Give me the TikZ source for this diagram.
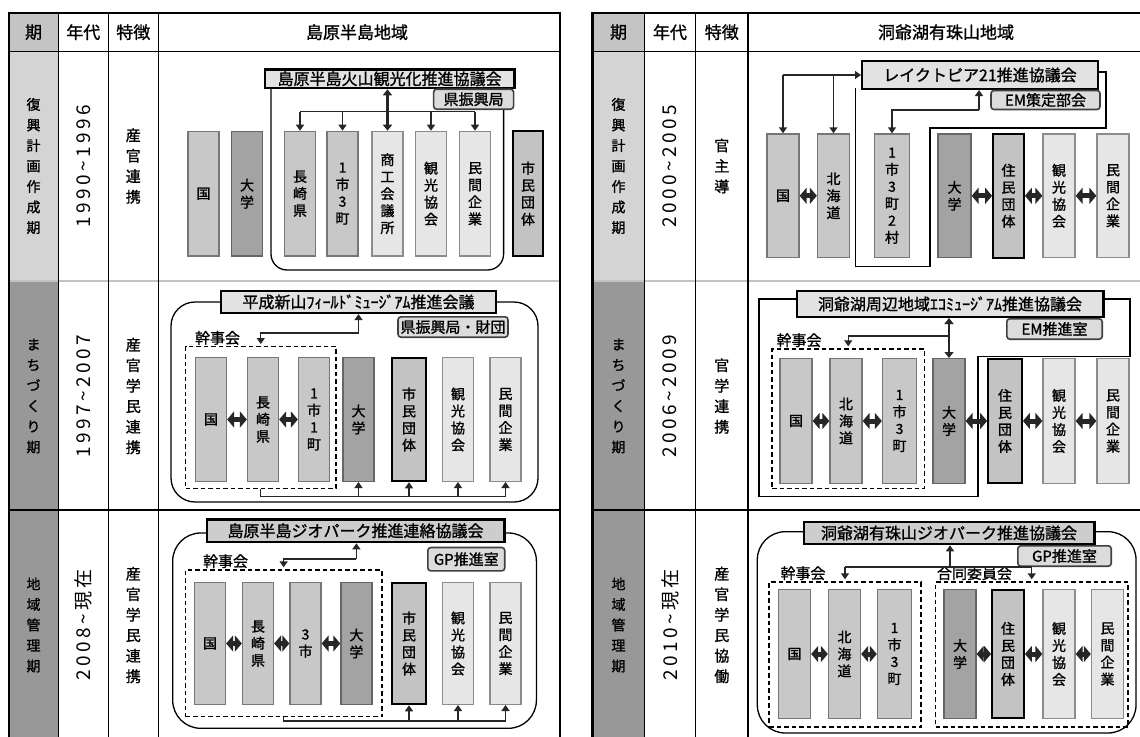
\documentclass[tikz,border=0pt]{standalone}
\usepackage{fontspec}
\newfontfamily\jp{Noto Sans CJK JP}[AutoFakeBold=1.2]
\newfontfamily\jpnum{Noto Sans CJK JP}[LetterSpace=18]
\usetikzlibrary{arrows.meta, positioning, calc}

\definecolor{celdaKiCab}{RGB}{196,196,196}
\definecolor{celdaKiClaro}{RGB}{212,212,212}
\definecolor{celdaKiOscuro}{RGB}{152,152,152}
\definecolor{lineaFila}{RGB}{195,195,195}
\definecolor{cajaGob}{RGB}{200,200,200}
\definecolor{cajaUniv}{RGB}{163,163,163}
\definecolor{cajaCiv}{RGB}{195,195,195}
\definecolor{cajaPriv}{RGB}{230,230,230}
\definecolor{bordeCaja}{RGB}{118,118,118}
\definecolor{fondoConsejo}{RGB}{226,226,226}
\definecolor{fondoConsejoGeo}{RGB}{205,205,205}
\definecolor{fondoOficina}{RGB}{220,220,220}

\begin{document}
\begin{tikzpicture}[
  x=1pt, y=-1pt,
  org/.style={rectangle, draw=bordeCaja, line width=1.3pt, inner sep=0pt,
              minimum width=31pt, align=center,
              font=\jp\bfseries\fontsize{14}{17}\selectfont},
  gob/.style={org, fill=cajaGob},
  univ/.style={org, fill=cajaUniv, draw=black!60},
  civ/.style={org, fill=cajaCiv, draw=black, line width=1.8pt, minimum width=34pt},
  priv/.style={org, fill=cajaPriv, draw=black!45},
  consejo/.style={rectangle, draw=black, line width=2.2pt, fill=fondoConsejo,
                  inner sep=0pt, font=\jp\bfseries\fontsize{16}{18}\selectfont},
  oficina/.style={rectangle, rounded corners=3pt, draw=black!75, line width=1.6pt,
                  fill=fondoOficina, inner sep=0pt, font=\jp\bfseries\fontsize{15}{17}\selectfont},
  kanji/.style={rectangle, draw=black, line width=1.4pt,
                dash pattern=on 4.5pt off 3pt, inner sep=0pt},
  rotulo/.style={inner sep=0pt, font=\jp\bfseries\fontsize{15}{17}\selectfont},
  marco/.style={draw=black, line width=1.3pt},
  link/.style={draw=black!85, line width=1.4pt},
  arr/.style={link, -{Triangle[length=6pt,width=8pt]}},
  dbl/.style={<->, >={Triangle[length=7pt,width=16pt]}, line width=5pt, draw=black!85},
  gruesa/.style={link, line width=2.4pt,
                 {Triangle[length=6pt,width=9pt]}-{Triangle[length=6pt,width=9pt]}},
  cab/.style={inner sep=0pt, font=\jp\bfseries\fontsize{17}{19}\selectfont},
  ki/.style={inner sep=0pt, align=center, font=\jp\bfseries\fontsize{14}{20.5}\selectfont},
  rasgo/.style={inner sep=0pt, align=center, font=\jp\bfseries\fontsize{15}{20.5}\selectfont},
  nendai/.style={inner sep=0pt, rotate=90, font=\jpnum\fontsize{19}{21}\selectfont},
]
  \useasboundingbox (0,0) rectangle (1140,736);

  \fill[celdaKiCab] (8.7,12.7) rectangle (58.2,51.7);
  \fill[celdaKiClaro] (8.7,51.7) rectangle (58.2,281);
  \fill[celdaKiOscuro] (8.7,281) rectangle (58.2,740);
  \draw[lineaFila, line width=1.5pt] (8.7,281) -- (560,281);
  \draw[line width=1.5pt] (8.7,51.7) -- (560,51.7) (8.7,510) -- (560,510);
  \draw[line width=1.2pt] (58.2,12.7) -- (58.2,740) (108.4,12.7) -- (108.4,740)
    (158.2,12.7) -- (158.2,740);
  \draw[line width=2.2pt] (8.7,740) -- (8.7,12.7) -- (560,12.7) -- (560,740);

  \fill[celdaKiCab] (592.5,12.7) rectangle (644.5,51.7);
  \fill[celdaKiClaro] (592.5,51.7) rectangle (644.5,281);
  \fill[celdaKiOscuro] (592.5,281) rectangle (644.5,740);
  \draw[lineaFila, line width=1.5pt] (592.5,281) -- (1141,281);
  \draw[line width=1.5pt] (592.5,51.7) -- (1141,51.7) (592.5,510) -- (1141,510);
  \draw[line width=1.2pt] (644.5,12.7) -- (644.5,740) (695.5,12.7) -- (695.5,740)
    (748,12.7) -- (748,740);
  \draw[line width=2.2pt] (592.5,740) -- (592.5,12.7) -- (1141,12.7) -- (1141,740);

  \node[cab] (kiL) at (33.5,32.2) {期};
  \node[cab] (nenL) at (83.3,32.2) {年代};
  \node[cab] (tokuL) at (133.3,32.2) {特徴};
  \node[cab] (chiikiL) at (357,32.2) {島原半島地域};
  \node[ki] (kiL1) at (33.5,166) {復\\興\\計\\画\\作\\成\\期};
  \node[ki] (kiL2) at (33.5,396) {ま\\ち\\づ\\く\\り\\期};
  \node[ki] (kiL3) at (33.5,625) {地\\域\\管\\理\\期};
  \node[nendai] (nenL1) at (83.3,166) {1990\char"7E 1996};
  \node[nendai] (nenL2) at (83.3,396) {1997\char"7E 2007};
  \node[nendai] (nenL3) at (83.3,625) {2008\char"7E 現在};
  \node[rasgo] (tokuL1) at (133.3,166) {産\\官\\連\\携};
  \node[rasgo] (tokuL2) at (133.3,396) {産\\官\\学\\民\\連\\携};
  \node[rasgo] (tokuL3) at (133.3,625) {産\\官\\学\\民\\連\\携};

  \node[cab] (kiR) at (618.5,32.2) {期};
  \node[cab] (nenR) at (670,32.2) {年代};
  \node[cab] (tokuR) at (721.8,32.2) {特徴};
  \node[cab] (chiikiR) at (946,32.2) {洞爺湖有珠山地域};
  \node[ki] (kiR1) at (618.5,166) {復\\興\\計\\画\\作\\成\\期};
  \node[ki] (kiR2) at (618.5,396) {ま\\ち\\づ\\く\\り\\期};
  \node[ki] (kiR3) at (618.5,625) {地\\域\\管\\理\\期};
  \node[nendai] (nenR1) at (670,166) {2000\char"7E 2005};
  \node[nendai] (nenR2) at (670,396) {2006\char"7E 2009};
  \node[nendai] (nenR3) at (670,625) {2010\char"7E 現在};
  \node[rasgo] (tokuR1) at (721.8,166) {官\\主\\導};
  \node[rasgo] (tokuR2) at (721.8,396) {官\\学\\連\\携};
  \node[rasgo] (tokuR3) at (721.8,625) {産\\官\\学\\民\\協\\働};

  \draw[marco] (271,85) [rounded corners=16pt] -- (271,270) -- (503.6,270) -- (503.6,105);
  \node[consejo, minimum width=249.8pt, minimum height=18.8pt] (consejoL1) at (389.6,78.8)
    {島原半島火山観光化推進協議会};
  \node[oficina, minimum width=80pt, minimum height=20pt] (oficinaL1) at (473.6,99.2) {県振興局};
  \begin{scope}[org/.append style={minimum height=124.7pt}]
    \node[gob] (kokuL1) at (203.5,193.7) {国};
    \node[univ] (daigakuL1) at (247,193.7) {大\\学};
    \node[gob] (kenL1) at (300,193.7) {長\\崎\\県};
    \node[gob] (shichoL1) at (342.5,193.7) {1\\市\\3\\町};
    \node[priv] (shokoL1) at (387.5,193.7) {商\\工\\会\\議\\所};
    \node[priv] (kankoL1) at (431,193.7) {観\\光\\協\\会};
    \node[priv] (minkanL1) at (475,193.7) {民\\間\\企\\業};
    \node[civ, minimum width=30pt] (shiminL1) at (528,193.7) {市\\民\\団\\体};
  \end{scope}
  \coordinate (busL1) at (0,111.7);
  \draw[link] (kenL1.north |- busL1) -- (minkanL1.north |- busL1);
  \foreach \n in {kenL1,shichoL1,kankoL1,minkanL1}
    \draw[arr] (\n.north |- busL1) -- (\n.north);
  \draw[gruesa] (shokoL1.north) -- (shokoL1.north |- consejoL1.south);

  \draw[marco, rounded corners=24pt] (171,302) rectangle (538,502);
  \node[consejo, minimum width=275pt, minimum height=22pt] (consejoL2) at (358.5,302)
    {平成新山ﾌｨｰﾙﾄﾞﾐｭｰｼﾞｱﾑ推進会議};
  \node[oficina, minimum width=110pt, minimum height=20.4pt] (oficinaL2) at (453,327)
    {県振興局・財団};
  \node[kanji, minimum width=150.5pt, minimum height=141.6pt] (kanjiL2) at (260.75,417.5) {};
  \node[rotulo, anchor=south west] (rotuloL2) at ([xshift=10pt,yshift=1pt]kanjiL2.north west) {幹事会};
  \begin{scope}[org/.append style={minimum height=123.7pt}]
    \node[gob] (kokuL2) at (211,419.5) {国};
    \node[gob] (kenL2) at (263,419.5) {長\\崎\\県};
    \node[gob] (shichoL2) at (314,419.5) {1\\市\\1\\町};
    \node[univ] (daigakuL2) at (358.5,419.5) {大\\学};
    \node[civ] (shiminL2) at (409,419.5) {市\\民\\団\\体};
    \node[priv] (kankoL2) at (458,419.5) {観\\光\\協\\会};
    \node[priv] (minkanL2) at (505.5,419.5) {民\\間\\企\\業};
  \end{scope}
  \draw[dbl] (kokuL2) -- (kenL2);
  \draw[dbl] (kenL2) -- (shichoL2);
  \coordinate (busL2) at (0,333);
  \draw[arr] (daigakuL2.north |- busL2) -- (daigakuL2.north |- consejoL2.south);
  \draw[arr] (daigakuL2.north |- busL2) -| ([yshift=2pt]kanjiL2.north);
  \coordinate (baseL2) at (0,496.7);
  \draw[link] (kanjiL2.south) -- (kanjiL2.south |- baseL2) -- (minkanL2.south |- baseL2);
  \foreach \n in {daigakuL2,shiminL2,kankoL2,minkanL2}
    \draw[arr] (\n.south |- baseL2) -- (\n.south);

  \draw[marco, rounded corners=28pt] (172.7,533) rectangle (536.4,728.3);
  \node[consejo, fill=fondoConsejoGeo, minimum width=297.8pt, minimum height=22.8pt] (consejoL3)
    at (355.5,530.8) {島原半島ジオパーク推進連絡協議会};
  \node[oficina, minimum width=76.9pt, minimum height=23.4pt] (oficinaL3) at (466.3,559.2) {GP推進室};
  \node[kanji, minimum width=196.3pt, minimum height=146.7pt] (kanjiL3) at (283.65,643.35) {};
  \node[rotulo, anchor=south west] (rotuloL3) at ([xshift=18pt,yshift=1pt]kanjiL3.north west) {幹事会};
  \begin{scope}[org/.append style={minimum height=121.7pt}]
    \node[gob] (kokuL3) at (210,643.5) {国};
    \node[gob] (kenL3) at (258,643.5) {長\\崎\\県};
    \node[gob] (shiL3) at (305.5,643.5) {3\\市};
    \node[univ] (daigakuL3) at (356.4,643.5) {大\\学};
    \node[civ] (shiminL3) at (409,643.5) {市\\民\\団\\体};
    \node[priv] (kankoL3) at (458,643.5) {観\\光\\協\\会};
    \node[priv] (minkanL3) at (505.5,643.5) {民\\間\\企\\業};
  \end{scope}
  \draw[dbl] (kokuL3) -- (kenL3);
  \draw[dbl] (kenL3) -- (shiL3);
  \draw[dbl] (shiL3) -- (daigakuL3);
  \coordinate (busL3) at (0,559);
  \draw[arr] (daigakuL3.north |- busL3) -- (daigakuL3.north |- consejoL3.south);
  \draw[arr] (daigakuL3.north |- busL3) -| ([yshift=2pt]kanjiL3.north);
  \coordinate (baseL3) at (0,721);
  \draw[link] (kanjiL3.south) -- (kanjiL3.south |- baseL3) -- (minkanL3.south |- baseL3);
  \foreach \n in {shiminL3,kankoL3,minkanL3}
    \draw[arr] (\n.south |- baseL3) -- (\n.south);

  \draw[marco, line width=1.2pt] (855.5,88) -- (855.5,266.7) -- (930,266.7) -- (930,128)
    -- (1106,128) -- (1106,72) -- (1095,72);
  \node[consejo, minimum width=235.8pt, minimum height=27.8pt] (consejoR1) at (980,75)
    {レイクトピア21推進協議会};
  \node[oficina, minimum width=109pt, minimum height=19pt] (oficinaR1) at (1045.5,100) {EM策定部会};
  \begin{scope}[org/.append style={minimum height=123.7pt, minimum width=32pt}]
    \node[gob] (kokuR1) at (783,195.8) {国};
    \node[gob] (hokkaidoR1) at (833.5,195.8) {北\\海\\道};
    \node[gob, minimum width=35pt] (shichoR1) at (892,195.8) {1\\市\\3\\町\\2\\村};
    \node[univ, minimum width=33pt] (daigakuR1) at (954.5,195.8) {大\\学};
    \node[civ, minimum width=31pt] (juminR1) at (1008.5,195.8) {住\\民\\団\\体};
    \node[priv] (kankoR1) at (1059,195.8) {観\\光\\協\\会};
    \node[priv] (minkanR1) at (1113,195.8) {民\\間\\企\\業};
  \end{scope}
  \draw[arr] (kokuR1.north |- consejoR1.west) -- (consejoR1.west);
  \draw[arr] (kokuR1.north |- consejoR1.west) -- (kokuR1.north);
  \draw[arr] (hokkaidoR1.north |- consejoR1.west) -- (hokkaidoR1.north);
  \coordinate (nudoR1) at (979,110);
  \draw[arr] (nudoR1) -- (nudoR1 |- consejoR1.south);
  \draw[arr] (nudoR1) -| (shichoR1.north);
  \draw[dbl] (kokuR1) -- (hokkaidoR1);
  \draw[dbl] (daigakuR1) -- (juminR1);
  \draw[dbl] (juminR1) -- (kankoR1);
  \draw[dbl] (kankoR1) -- (minkanR1);

  \draw[marco, line width=1.5pt] (800,299) -- (759,299) -- (759,496.7) -- (978,496.7)
    -- (978,356.7) -- (1130,356.7) -- (1130,299) -- (1100,299);
  \node[consejo, minimum width=306.8pt, minimum height=25.8pt] (consejoR2) at (950,304)
    {洞爺湖周辺地域ｴｺﾐｭｰｼﾞｱﾑ推進協議会};
  \node[oficina, minimum width=95.4pt, minimum height=20.4pt] (oficinaR2) at (1054.5,329) {EM推進室};
  \node[kanji, minimum width=152.5pt, minimum height=139.3pt] (kanjiR2) at (848.25,418.65) {};
  \node[rotulo, anchor=south west] (rotuloR2) at ([xshift=5pt,yshift=1pt]kanjiR2.north west) {幹事会};
  \begin{scope}[org/.append style={minimum height=124.7pt, minimum width=32pt}]
    \node[gob] (kokuR2) at (796,421) {国};
    \node[gob] (hokkaidoR2) at (846,421) {北\\海\\道};
    \node[gob, minimum width=34pt] (shichoR2) at (899.5,421) {1\\市\\3\\町};
    \node[univ] (daigakuR2) at (949,421) {大\\学};
    \node[civ] (juminR2) at (1005,421) {住\\民\\団\\体};
    \node[priv] (kankoR2) at (1059,421) {観\\光\\協\\会};
    \node[priv] (minkanR2) at (1113,421) {民\\間\\企\\業};
  \end{scope}
  \draw[dbl] (kokuR2) -- (hokkaidoR2);
  \draw[dbl] (hokkaidoR2) -- (shichoR2);
  \draw[dbl] (daigakuR2) -- (juminR2);
  \draw[dbl] (juminR2) -- (kankoR2);
  \draw[dbl] (kankoR2) -- (minkanR2);
  \draw[gruesa] (daigakuR2.north) -- (daigakuR2.north |- consejoR2.south);
  \coordinate (busR2) at (0,336);
  \draw[arr] (daigakuR2.north |- busR2) -| ([yshift=2pt]kanjiR2.north);

  \draw[marco, rounded corners=28pt] (757.3,531.7) rectangle (1136,733);
  \node[consejo, fill=fondoConsejoGeo, minimum width=290.8pt, minimum height=22.4pt] (consejoR3)
    at (949,533) {洞爺湖有珠山ジオパーク推進協議会};
  \node[oficina, minimum width=93.4pt, minimum height=20.4pt] (oficinaR3) at (1064.5,556) {GP推進室};
  \node[kanji, minimum width=152pt, minimum height=145pt] (kanjiR3a) at (845,654.5) {};
  \node[kanji, minimum width=192.5pt, minimum height=145pt] (kanjiR3b) at (1031.75,654.5) {};
  \node[rotulo, anchor=south west] (rotuloR3a) at ([xshift=12pt,yshift=1pt]kanjiR3a.north west) {幹事会};
  \node[rotulo, anchor=south west] (rotuloR3b) at ([xshift=2pt,yshift=1pt]kanjiR3b.north west) {合同委員会};
  \begin{scope}[org/.append style={minimum height=128.7pt, minimum width=32pt}]
    \node[gob] (kokuR3) at (794.5,654) {国};
    \node[gob] (hokkaidoR3) at (844.5,654) {北\\海\\道};
    \node[gob, minimum width=34pt] (shichoR3) at (894.5,654) {1\\市\\3\\町};
    \node[univ] (daigakuR3) at (960,654) {大\\学};
    \node[civ, minimum width=32pt] (juminR3) at (1008,654) {住\\民\\団\\体};
    \node[priv] (kankoR3) at (1059,654) {観\\光\\協\\会};
    \node[priv] (minkanR3) at (1107.5,654) {民\\間\\企\\業};
  \end{scope}
  \draw[dbl] (kokuR3) -- (hokkaidoR3);
  \draw[dbl] (hokkaidoR3) -- (shichoR3);
  \draw[dbl] (daigakuR3) -- (juminR3);
  \draw[dbl] (juminR3) -- (kankoR3);
  \draw[dbl] (kankoR3) -- (minkanR3);
  \coordinate (busR3) at (950,567);
  \draw[arr] (busR3) -- (busR3 |- consejoR3.south);
  \draw[link] (kanjiR3a.north |- busR3) -- (kanjiR3b.north |- busR3);
  \draw[arr] (kanjiR3a.north |- busR3) -- ([yshift=2pt]kanjiR3a.north);
  \draw[arr] (kanjiR3b.north |- busR3) -- ([yshift=2pt]kanjiR3b.north);
\end{tikzpicture}
\end{document}
